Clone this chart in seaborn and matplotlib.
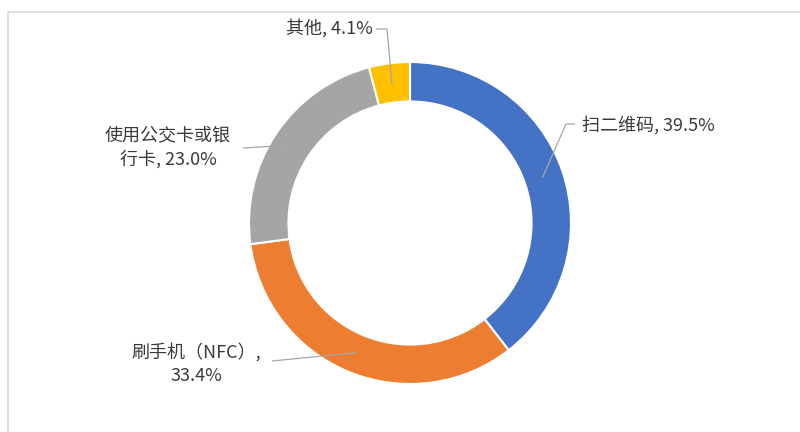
import numpy as np
import seaborn as sns
import matplotlib.pyplot as plt
from matplotlib.patches import Rectangle

# Data
labels = ["扫二维码", "刷手机（NFC）", "使用公交卡或银行卡", "其他"]
shares = [39.5, 33.4, 23.0, 4.1]
label_texts = ["扫二维码, 39.5%", "刷手机（NFC）,\n33.4%", "使用公交卡或银\n行卡, 23.0%", "其他, 4.1%"]
colors = ["#4472C4", "#ED7D31", "#A5A5A5", "#FFC000"]

sns.set_theme(style="white")
plt.rcParams['font.family'] = ['Noto Sans CJK SC', 'DejaVu Sans']

W, H = 800, 432
cx, cy, R = 410, 223, 161  # donut centre / radius in pixels


def px(x, y):
    # pixel position -> data units (radius = 1)
    return (x - cx) / R, (cy - y) / R


fig = plt.figure(figsize=(W / 100, H / 100), dpi=100)
ax = fig.add_axes([0, 0, 1, 1])
ax.axis("off")

# chart area border
fig.patches.append(Rectangle((8 / W, -0.1), 1.2, 1 - 12 / H + 0.1, transform=fig.transFigure,
                             fill=False, edgecolor="#D9D9D9", linewidth=1.2))

wedges, _ = ax.pie(shares, colors=colors, startangle=90, counterclock=False, radius=1,
                   wedgeprops=dict(width=0.245, edgecolor="white", linewidth=1.5))
# pie() resets the limits, so set them afterwards
ax.set_aspect("auto")
ax.set_xlim(-cx / R, (W - cx) / R)
ax.set_ylim((cy - H) / R, cy / R)

# label layout: text position (px), alignment, leader-line elbow points (px)
text_pos = [(582, 125), (196, 364), (168, 147), (329, 28)]
text_ha = ["left", "center", "center", "center"]
elbows = [[(575, 124), (566, 124)], [(272, 361)], [(243, 148)], [(376, 29), (387, 29)]]

line_color = "#A6A6A6"
for w, txt, pos, ha, elb in zip(wedges, label_texts, text_pos, text_ha, elbows):
    ang = np.deg2rad((w.theta1 + w.theta2) / 2)
    r_mid = 0.87
    end = (r_mid * np.cos(ang), r_mid * np.sin(ang))
    pts = [px(*p) for p in elb] + [end]
    ax.plot([p[0] for p in pts], [p[1] for p in pts], color=line_color, lw=0.9,
            solid_capstyle="butt", zorder=3)
    tx, ty = px(*pos)
    ax.text(tx, ty, txt, ha=ha, va="center", fontsize=13, color="#3A3A3A",
            linespacing=1.4, multialignment="center")

fig.savefig("out.png", dpi=100)
